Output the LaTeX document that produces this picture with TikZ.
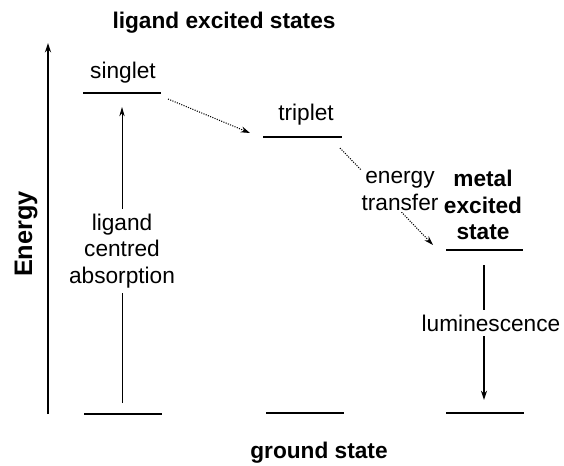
\documentclass[tikz,border=0pt]{standalone}
\usepackage{fontspec}
\setmainfont{Liberation Sans}
\usetikzlibrary{arrows.meta}

\begin{document}
\begin{tikzpicture}[x=0.75pt,y=-0.75pt,font=\fontsize{17}{20}\selectfont,
	level/.style={line width=1.3pt},
	axis/.style={line width=1.2pt,-{Stealth[length=7pt,width=4.5pt]}},
	transfer/.style={densely dotted,line width=0.8pt,-{Stealth[length=7pt,width=4.5pt]}},
	upward/.style={line width=0.6pt,-{Stealth[length=7pt,width=4pt]}},
	downward/.style={line width=1pt,-{Stealth[length=7pt,width=4.5pt]}},
	heading/.style={font=\fontsize{17}{20}\selectfont\bfseries}]
	\useasboundingbox (0,0) rectangle (564,465);

	\node[heading] (excited) at (224,23) {ligand excited states};
	\node[heading] (ground) at (319,453) {ground state};
	\node[font=\fontsize{19}{22}\selectfont\bfseries,rotate=90] (energy) at (26,234) {Energy};

	\coordinate (axisbottom) at (48,414);
	\coordinate (axistop) at (48,43);
	\draw[axis] (axisbottom) -- (axistop);

	\draw[level] (83,93) -- (161,93);
	\draw[level] (263,137) -- (342,137);
	\draw[level] (446,250) -- (523,250);
	\draw[level] (84,414) -- (162,414);
	\draw[level] (266,413) -- (344,413);
	\draw[level] (446,413) -- (524,413);

	\node (singlet) at (123,73) {singlet};
	\node (triplet) at (306,115) {triplet};
	\node[heading,align=center] (metal) at (483,205) {metal\\excited\\state};

	\coordinate (isc1) at (168,99);
	\coordinate (isc2) at (250,133);
	\draw[transfer] (isc1) -- (isc2);

	\coordinate (et1) at (340,148);
	\coordinate (et2) at (433,245);
	\draw[transfer] (et1) -- (et2);
	\node[align=center,fill=white,inner sep=1pt] (et) at (400,191) {energy\\transfer};

	\node[align=center] (absorb) at (122,251) {ligand\\centred\\absorption};
	\coordinate (abstop) at (122,107);
	\coordinate (absbottom) at (122,403);
	\draw[line width=0.6pt] (absbottom) -- (absbottom |- absorb.south);
	\draw[upward] (abstop |- absorb.north) -- (abstop);

	\node (lum) at (491,323) {luminescence};
	\coordinate (lumtop) at (484,265);
	\coordinate (lumbottom) at (484,400);
	\draw[line width=1pt] (lumtop) -- (lumtop |- lum.north);
	\draw[downward] (lumbottom |- lum.south) -- (lumbottom);
\end{tikzpicture}
\end{document}
